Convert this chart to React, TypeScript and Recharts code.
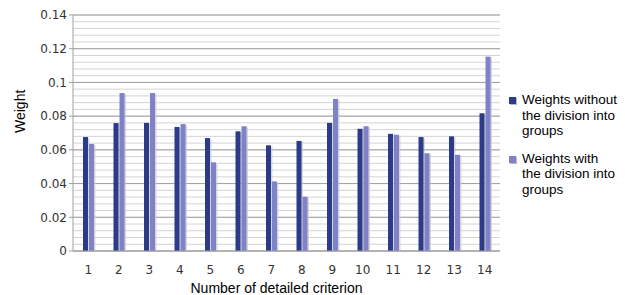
import { BarChart, Bar, XAxis, YAxis, CartesianGrid } from 'recharts';

const CRITERIA = ['1', '2', '3', '4', '5', '6', '7', '8', '9', '10', '11', '12', '13', '14'];
const WITHOUT_GROUPS = [0.0676, 0.0759, 0.076, 0.0736, 0.067, 0.071, 0.0627, 0.0653, 0.076, 0.0725, 0.0695, 0.0676, 0.068, 0.0817];
const WITH_GROUPS = [0.0635, 0.0937, 0.0937, 0.0753, 0.0526, 0.074, 0.0413, 0.0322, 0.0902, 0.074, 0.069, 0.058, 0.0571, 0.1153];
const Y_MAX = 0.14;
const MAJOR_TICKS = [0, 0.02, 0.04, 0.06, 0.08, 0.1, 0.12, 0.14];
const MINOR_TICKS = [0, 0.004, 0.008, 0.012, 0.016, 0.02, 0.024, 0.028, 0.032, 0.036, 0.04, 0.044, 0.048, 0.052, 0.056, 0.06, 0.064, 0.068, 0.072, 0.076, 0.08, 0.084, 0.088, 0.092, 0.096, 0.1, 0.104, 0.108, 0.112, 0.116, 0.12, 0.124, 0.128, 0.132, 0.136, 0.14];

const SERIES = [
  { key: 'without', label: ['Weights without', 'the division into', 'groups'], color: '#2c3a8a' },
  { key: 'with', label: ['Weights with', 'the division into', 'groups'], color: '#7f81c9' },
];

const data = CRITERIA.map((c, i) => ({
  criterion: c,
  without: WITHOUT_GROUPS[i],
  with: WITH_GROUPS[i],
}));

const TICK_FONT = 'DejaVu Sans, Verdana, sans-serif';
const TEXT_FONT = 'Liberation Sans, Arial, sans-serif';

// bar with a soft drop shadow, like the office chart export
function ShadowBar(props: any) {
  const { x, y, width, height, fill } = props;
  if (!height || height <= 0) return null;
  return (
    <g>
      <rect x={x + 1.5} y={y + 1} width={width} height={height - 1} fill="#c8c8c8" opacity={0.7} />
      <rect x={x} y={y} width={width} height={height} fill={fill} />
    </g>
  );
}

function Legend() {
  return (
    <div style={{ position: 'absolute', left: 509, top: 92, fontFamily: TEXT_FONT, fontSize: 13.5, color: '#000', lineHeight: '15.5px' }}>
      {SERIES.map((s, i) => (
        <div key={s.key} style={{ display: 'flex', marginBottom: i === 0 ? 12 : 0 }}>
          <div style={{ width: 7, height: 7, background: s.color, marginTop: 5, marginRight: 6, boxShadow: '1px 1px 0 #bbb' }} />
          <div>
            {s.label.map((l) => (
              <div key={l}>{l}</div>
            ))}
          </div>
        </div>
      ))}
    </div>
  );
}

// minor grid lines: map the minor tick values onto the plot's height
const minorGrid = ({ offset }: any) =>
  MINOR_TICKS.map((t) => offset.top + offset.height * (1 - t / Y_MAX));

export default function App() {
  return (
    <div style={{ position: 'absolute', left: 0, top: 0, width: 625, height: 295, background: '#fff' }}>
      <BarChart
        width={625}
        height={295}
        data={data}
        margin={{ top: 15, right: 125, left: 10, bottom: 0 }}
        barSize={5}
        barGap={1}
      >
        <CartesianGrid vertical={false} stroke="#d4d4d4" strokeWidth={1} horizontalCoordinatesGenerator={minorGrid} />
        <CartesianGrid vertical={false} stroke="#a0a0a0" strokeWidth={1} />
        <XAxis
          dataKey="criterion"
          height={44}
          axisLine={{ stroke: '#a0a0a0' }}
          tickLine={false}
          tick={{ fontSize: 12, fill: '#333', fontFamily: TICK_FONT, dy: 6 }}
          label={{ value: 'Number of detailed criterion', position: 'insideBottom', offset: 2, dx: -10, fontSize: 14, fill: '#000', fontFamily: TEXT_FONT }}
        />
        <YAxis
          domain={[0, Y_MAX]}
          ticks={MAJOR_TICKS}
          width={63}
          axisLine={{ stroke: '#a0a0a0' }}
          tickLine={{ stroke: '#a0a0a0' }}
          tickSize={4}
          tick={{ fontSize: 12, fill: '#333', fontFamily: TICK_FONT }}
          tickFormatter={(v: number) => String(Number(v.toFixed(2)))}
          label={{ value: 'Weight', angle: -90, position: 'insideLeft', offset: 0, dx: 10, fontSize: 14, fill: '#000', fontFamily: TEXT_FONT }}
        />
        {SERIES.map((s) => (
          <Bar key={s.key} dataKey={s.key} fill={s.color} shape={<ShadowBar />} isAnimationActive={false} />
        ))}
      </BarChart>
      <Legend />
    </div>
  );
}
